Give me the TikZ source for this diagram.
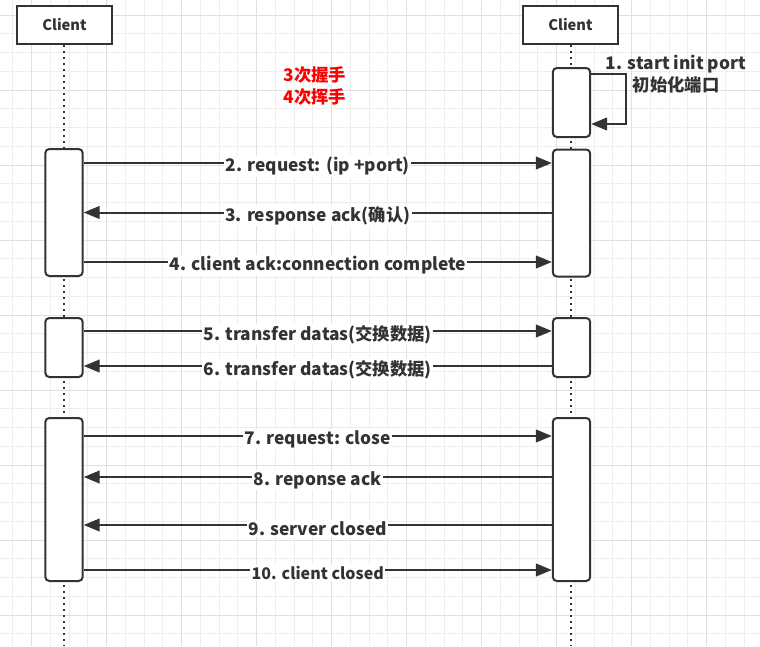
\documentclass[tikz,border=0pt]{standalone}
\usepackage{fontspec}
\setmainfont{Noto Sans CJK SC}
\usetikzlibrary{arrows.meta,positioning}
\definecolor{ink}{HTML}{333333}
\definecolor{gridminor}{HTML}{EEEEEE}
\definecolor{gridmajor}{HTML}{E0E0E0}
\tikzset{
  client/.style={draw=ink,line width=1.5pt,fill=white,minimum width=71pt,minimum height=28.5pt,
    text=ink,font=\fontsize{11}{13}\selectfont\bfseries},
  act/.style={draw=ink,line width=1.5pt,fill=white,rounded corners=3pt,minimum width=28pt,inner sep=0pt},
  life/.style={ink,line width=1.5pt,dash pattern=on 1.5pt off 3pt},
  msg/.style={ink,line width=1.5pt,-{Triangle[length=12pt,width=9.5pt]}},
  lbl/.style={fill=white,text=ink,inner sep=1pt,yshift=-2.5pt,font=\fontsize{13}{14}\selectfont\bfseries},
  note/.style={align=center,font=\fontsize{13}{17}\selectfont\bfseries}
}
\begin{document}
\begin{tikzpicture}[x=0.75pt,y=-0.75pt]
\useasboundingbox (0,0) rectangle (760,646);
\fill[white] (0,0) rectangle (760,646);
% grid
\foreach \i in {0,...,40} \draw[gridminor,line width=0.75pt] ({12.95+18.75*\i},0) -- ({12.95+18.75*\i},646);
\foreach \i in {0,...,33} \draw[gridminor,line width=0.75pt] (0,{15+18.75*\i}) -- (760,{15+18.75*\i});
\foreach \i in {0,...,9} \draw[gridmajor,line width=0.75pt] ({31.7+75*\i},0) -- ({31.7+75*\i},646);
\foreach \i in {0,...,8} \draw[gridmajor,line width=0.75pt] (0,{15+75*\i}) -- (760,{15+75*\i});

% lifelines
\node[client] (cl) at (64.5,25) {Client};
\node[client] (cr) at (570.5,25) {Client};
\coordinate (el) at (64,646);
\coordinate (er) at (571,646);
\draw[life] (cl.south -| el) -- (el);
\draw[life] (cr.south -| er) -- (er);

% activations
\node[act,minimum height=51.75pt] (rs) at (571.5,102.5) {};
\node[act,minimum height=95.25pt] (la1) at (64,212.5) {};
\node[act,minimum height=95.25pt] (ra1) at (571.5,213) {};
\node[act,minimum height=44.25pt] (la2) at (64,347.5) {};
\node[act,minimum height=44.25pt] (ra2) at (571.5,347.5) {};
\node[act,minimum height=122.25pt] (la3) at (64,499.5) {};
\node[act,minimum height=122.25pt] (ra3) at (571.5,499.5) {};

% self call
\coordinate (loop) at (626,74);
\draw[msg] (rs.east |- loop) -- (loop) |- (rs.east |- 0,124);
\node[note,text=ink] (init) at (676,74) {1. start init port\\初始化端口};
\node[note,text=red] (shake) at (315,86) {3次握手\\4次挥手};

% messages
\draw[msg] (la1.east |- 0,163) -- node[lbl] {2. request: (ip +port)} (ra1.west |- 0,163);
\draw[msg] (ra1.west |- 0,212.5) -- node[lbl] {3. response ack(确认)} (la1.east |- 0,212.5);
\draw[msg] (la1.east |- 0,262) -- node[lbl] {4. client ack:connection complete} (ra1.west |- 0,262);
\draw[msg] (la2.east |- 0,331) -- node[lbl] {5. transfer datas(交换数据)} (ra2.west |- 0,331);
\draw[msg] (ra2.west |- 0,366) -- node[lbl] {6. transfer datas(交换数据)} (la2.east |- 0,366);
\draw[msg] (la3.east |- 0,436) -- node[lbl] {7. request: close} (ra3.west |- 0,436);
\draw[msg] (ra3.west |- 0,477) -- node[lbl] {8. reponse ack} (la3.east |- 0,477);
\draw[msg] (ra3.west |- 0,525) -- node[lbl] {9. server closed} (la3.east |- 0,525);
\draw[msg] (la3.east |- 0,570) -- node[lbl,font=\fontsize{12}{14}\selectfont\bfseries,yshift=0.5pt] {10. client closed} (ra3.west |- 0,570);
\end{tikzpicture}
\end{document}
